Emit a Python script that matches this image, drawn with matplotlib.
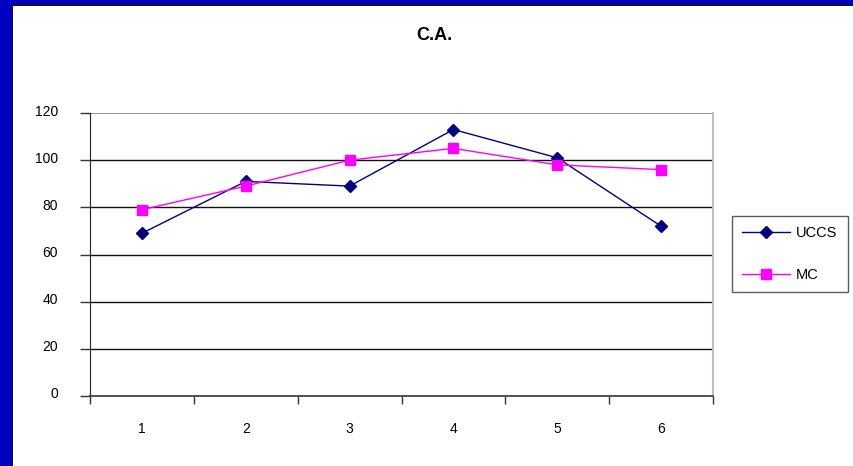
import matplotlib.pyplot as plt
from matplotlib.patches import Rectangle
from matplotlib.transforms import ScaledTranslation

plt.rcParams['font.family'] = ['Liberation Sans', 'DejaVu Sans']

categories = [1, 2, 3, 4, 5, 6]
uccs = [69, 91, 89, 113, 101, 72]
mc = [79, 89, 100, 105, 98, 96]
y_ticks = [0, 20, 40, 60, 80, 100, 120]

W, H = 854, 466
fig = plt.figure(figsize=(W / 100, H / 100), dpi=100)

# blue frame on the left and top edges
fig.patches.append(Rectangle((0, 0), 12 / W, 1, transform=fig.transFigure,
                             facecolor='#0000C0', edgecolor='none', zorder=0))
fig.patches.append(Rectangle((12 / W, 0), 1.5 / W, 1 - 4 / H, transform=fig.transFigure,
                             facecolor='#101030', edgecolor='none', zorder=0))
fig.patches.append(Rectangle((0, 1 - 4 / H), 1, 4 / H, transform=fig.transFigure,
                             facecolor='#0000C0', edgecolor='none', zorder=0))
fig.patches.append(Rectangle((12 / W, 1 - 5.5 / H), 1, 1.5 / H, transform=fig.transFigure,
                             facecolor='#101030', edgecolor='none', zorder=0))

ax = fig.add_axes([90 / W, 1 - 396 / H, (713 - 90) / W, (396 - 113) / H])

ax.plot(categories, uccs, color='#000080', lw=1, marker='D', ms=6.5,
        label='UCCS', zorder=3)
ax.plot(categories, mc, color='#FF00FF', lw=1, marker='s', ms=7,
        label='MC', zorder=3)

ax.set_xlim(0.5, 6.5)
ax.set_ylim(0, 120)
ax.set_yticks(y_ticks)
ax.set_xticks(categories)
ax.set_xticks([0.5 + i for i in range(7)], minor=True)
ax.tick_params(axis='x', which='major', length=0, pad=19, labelsize=10)
ax.tick_params(axis='x', which='minor', length=6, width=1, color='#333333')
ax.tick_params(axis='y', length=7, width=1, color='#333333', pad=16, labelsize=10)

# value labels sit a little above their gridlines
lift = ScaledTranslation(0, 3 / 100, fig.dpi_scale_trans)
for lbl in ax.get_yticklabels():
    lbl.set_transform(lbl.get_transform() + lift)

for v in y_ticks[1:-1]:
    ax.axhline(v, color='#111111', lw=1, zorder=1)
ax.axhline(120, color='#808080', lw=1.2, zorder=1)

ax.spines['top'].set_visible(False)
ax.spines['right'].set_color('#C0C0C0')
ax.spines['right'].set_linewidth(1.5)
ax.spines['left'].set_color('#222222')
ax.spines['bottom'].set_color('#444444')
ax.spines['bottom'].set_linewidth(1.3)

fig.text(434 / W, 1 - 35 / H, 'C.A.', ha='center', va='center',
         fontsize=13, fontweight='bold')

leg = fig.legend(loc='upper left', bbox_to_anchor=(732 / W, 1 - 216 / H),
                 frameon=True, fancybox=False, fontsize=10.5, handlelength=3.3,
                 borderpad=0.7, labelspacing=1.9, handletextpad=0.4,
                 borderaxespad=0)
leg.get_frame().set_edgecolor('#333333')
leg.get_frame().set_linewidth(1)

fig.savefig('out.png', dpi=100)
